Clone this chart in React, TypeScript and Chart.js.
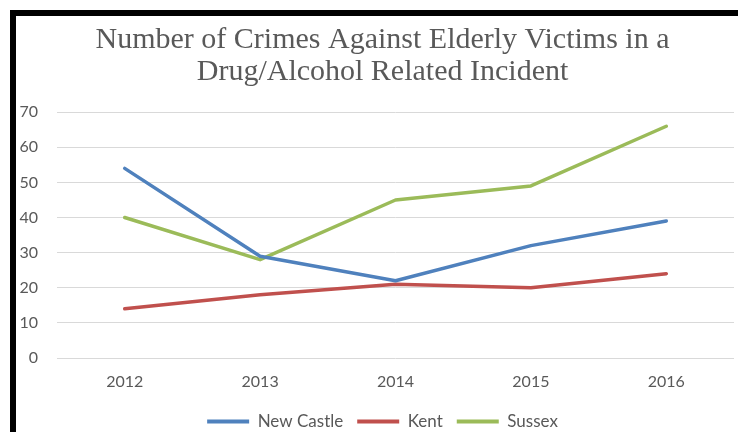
import React, { useEffect, useRef } from "react";
import { Chart, registerables } from "chart.js";

Chart.register(...registerables);

const categories = ["2012", "2013", "2014", "2015", "2016"];
const newCastle = [54, 29, 22, 32, 39];
const kent = [14, 18, 21, 20, 24];
const sussex = [40, 28, 45, 49, 66];
const titleLines = ["Number of Crimes Against Elderly Victims in a", "Drug/Alcohol Related Incident"];

const BLUE = "#4F81BD";
const RED = "#C0504D";
const GREEN = "#9BBB59";
const TEXT = "#595959";

export default function App() {
  const ref = useRef<HTMLCanvasElement | null>(null);
  useEffect(() => {
    if (!ref.current) return;
    const mk = (label: string, data: number[], color: string) => ({
      label,
      data,
      borderColor: color,
      backgroundColor: color,
      borderWidth: 3.5,
      pointRadius: 0,
      pointHoverRadius: 0,
      tension: 0,
      borderCapStyle: "round" as const,
      borderJoinStyle: "round" as const,
      yAxisID: "y",
    });
    const chart = new Chart(ref.current, {
      type: "line",
      data: {
        labels: categories,
        datasets: [mk("New Castle", newCastle, BLUE), mk("Kent", kent, RED), mk("Sussex", sussex, GREEN)],
      },
      options: {
        animation: false,
        responsive: false,
        maintainAspectRatio: false,
        layout: { padding: { left: 0, right: 0, top: 0, bottom: 0 } },
        plugins: {
          tooltip: { enabled: false },
          title: {
            display: true,
            text: titleLines,
            color: TEXT,
            font: { family: "'Liberation Serif', serif", size: 30, weight: "normal", lineHeight: 1.07 },
            padding: { top: 8, bottom: 24 },
          },
          legend: {
            display: true,
            position: "bottom",
            labels: {
              color: TEXT,
              font: { family: "Lato, sans-serif", size: 17 },
              boxWidth: 42,
              boxHeight: 4,
              padding: 14,
              generateLabels: (c: any) => {
                const items = Chart.defaults.plugins.legend.labels.generateLabels(c);
                return items.map((it: any) => ({ ...it, lineWidth: 0, strokeStyle: it.fillStyle }));
              },
            },
          },
        },
        scales: {
          x: {
            offset: true,
            grid: { display: false, offset: true },
            border: { display: false },
            ticks: { color: TEXT, font: { family: "Lato, sans-serif", size: 16 }, padding: 6 },
            afterFit: (s: any) => {
              s.height = 41;
            },
          },
          y: {
            min: 0,
            max: 70,
            grid: { color: "#D9D9D9", lineWidth: 1, drawTicks: false },
            border: { display: false },
            ticks: { stepSize: 10, color: TEXT, font: { family: "Lato, sans-serif", size: 16 }, padding: 19 },
            afterFit: (s: any) => {
              s.width = 41;
            },
          },
          spacer: {
            type: "linear",
            position: "right",
            display: true,
            grid: { display: false, drawTicks: false },
            border: { display: false },
            ticks: { display: false },
            afterFit: (s: any) => {
              s.width = 15;
            },
          },
        },
      },
    });
    return () => chart.destroy();
  }, []);
  return (
    <div style={{ position: "fixed", left: 0, top: 0, width: 738, height: 432, overflow: "hidden", background: "#fff" }}>
      <div
        style={{
          position: "absolute",
          left: 10,
          top: 10,
          width: 760,
          height: 460,
          borderLeft: "6px solid #000",
          borderTop: "6px solid #000",
          background: "#fff",
        }}
      >
        <canvas ref={ref} width={733} height={424} style={{ display: "block", width: 733, height: 424 }} />
      </div>
    </div>
  );
}
